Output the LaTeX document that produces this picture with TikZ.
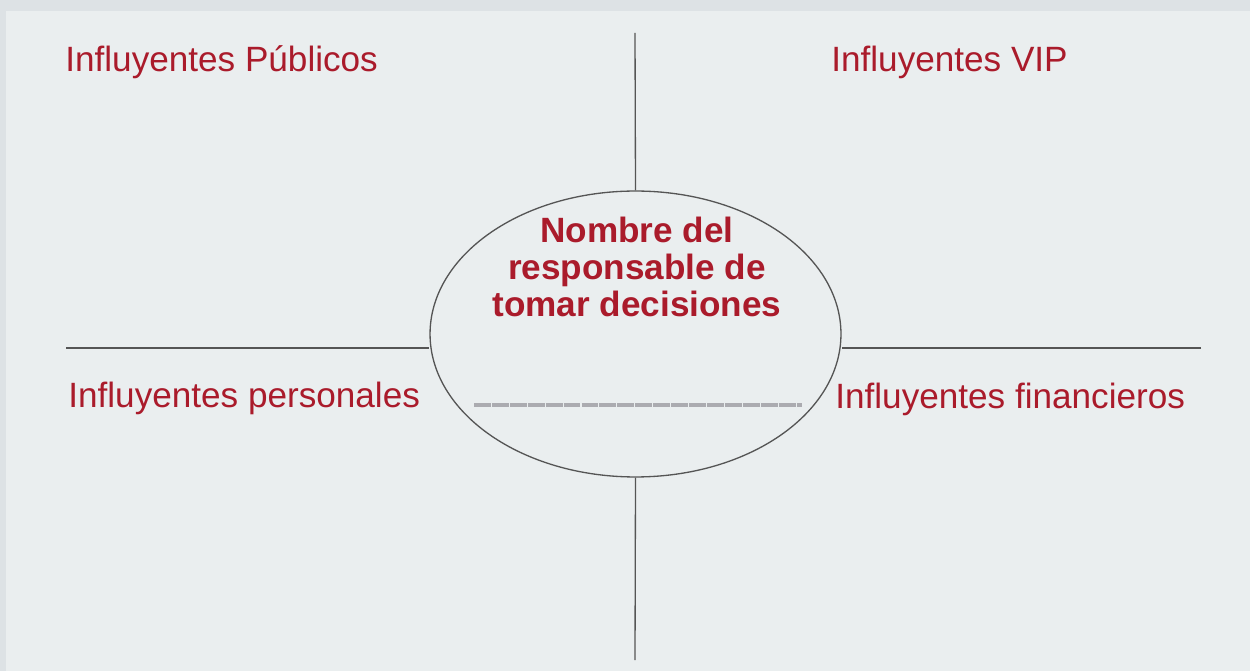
\documentclass[tikz,border=0pt]{standalone}
\usepackage{fontspec}
\setmainfont{Liberation Sans}
\usetikzlibrary{shapes.geometric}
\definecolor{frame}{HTML}{DDE2E5}
\definecolor{panel}{HTML}{EAEEEF}
\definecolor{wine}{HTML}{AA1B2B}
\definecolor{wire}{HTML}{555555}
\definecolor{blank}{HTML}{ABABB0}
\tikzstyle{label} = [text=wine, inner sep=0pt, font=\fontsize{20}{21}\selectfont]
\tikzstyle{quad} = [draw=wire, line width=0.75pt]

\begin{document}
\begin{tikzpicture}[x=0.02cm, y=-0.02cm]

        % Background
        \fill[frame] (0,0) rectangle (1250,671);
        \fill[panel] (6,11) rectangle (1250,671);
        \useasboundingbox (0,0) rectangle (1250,671);

        % Decision maker
        \node at (635.5,334) [ellipse, draw=wire, line width=0.75pt, minimum width=8.22cm, minimum height=5.72cm, inner sep=0pt] (dm) {};
        \node at (637,267) [label, font=\bfseries\fontsize{20}{21}\selectfont, align=center] (name) {Nombre del\\responsable de\\tomar decisiones};
        \draw[blank, line width=2.3pt, dash pattern=on 9.6pt off 0.6pt] (474,405) -- (802,405);

        % Axes
        \coordinate (top) at (635,33);
        \coordinate (bot) at (635,660);
        \coordinate (lft) at (66,348);
        \coordinate (rgt) at (1201,348);
        \draw[quad] (top) -- (dm.north);
        \draw[quad] (dm.south) -- (bot);
        \draw[quad] (lft) -- (lft -| dm.west);
        \draw[quad] (rgt) -- (rgt -| dm.east);

        % Quadrants
        \node at (65,72) [label, anchor=base west] (pub) {Influyentes Públicos};
        \node at (831,72) [label, anchor=base west] (vip) {Influyentes VIP};
        \node at (68,408) [label, anchor=base west] (pers) {Influyentes personales};
        \node at (835,409) [label, anchor=base west] (fin) {Influyentes financieros};

\end{tikzpicture}
\end{document}
